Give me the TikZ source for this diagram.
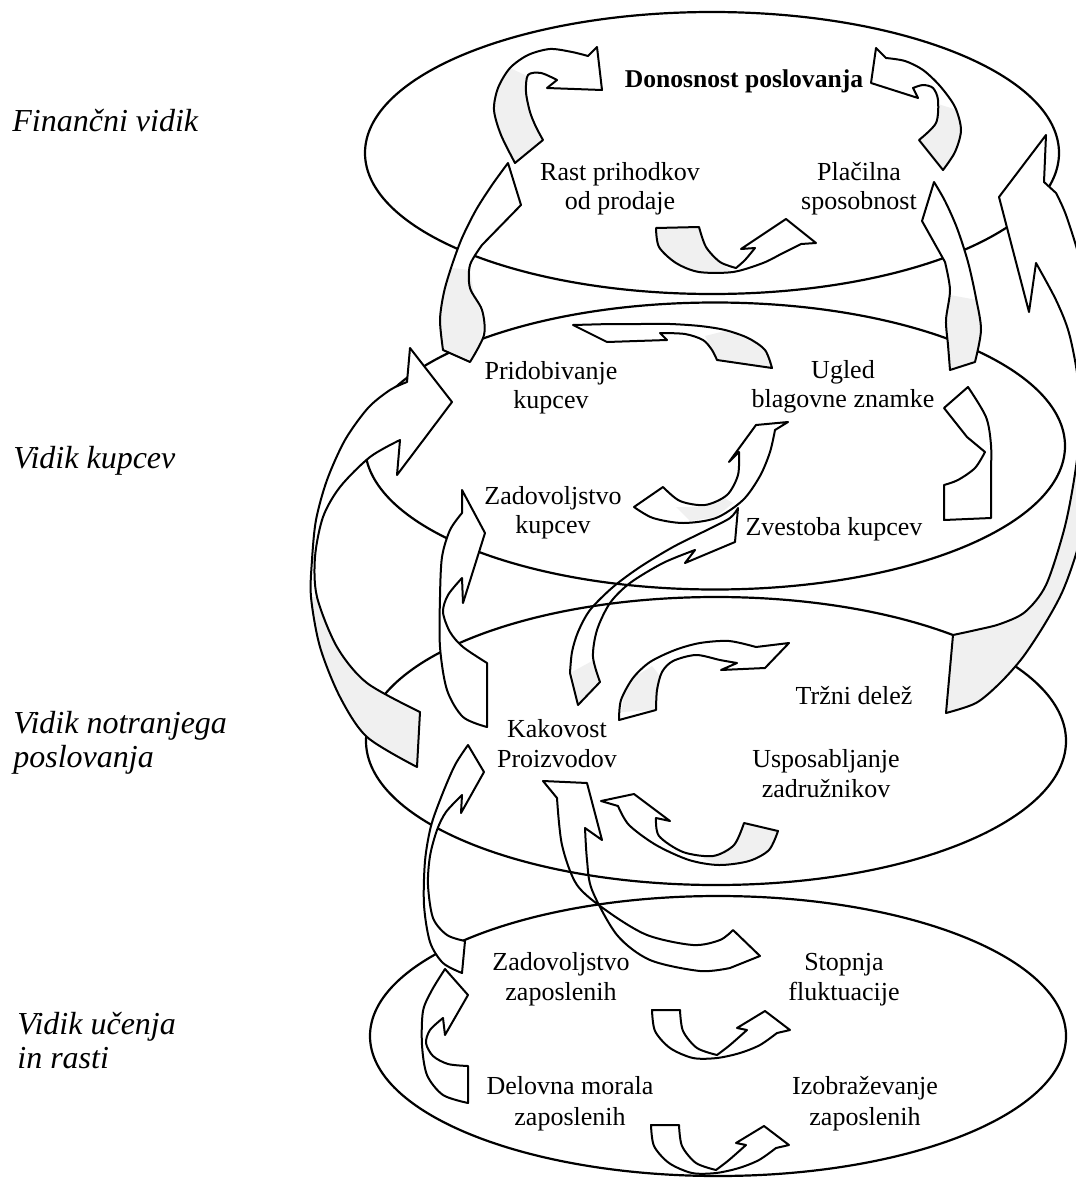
\documentclass[tikz,border=0pt]{standalone}
\usepackage{fontspec}
\setmainfont{Liberation Serif}

% outlines of the block arrows (pixel-like units, y downwards)
\newcommand\ArRast{(515,163) -- plot[smooth] coordinates {(515,163) (501,135) (494,110) (498,88) (510,68) (528,55) (550,49) (572,52) (588,56)} -- (597,47) -- (602,90) -- (547,88) -- (557,80) -- plot[smooth] coordinates {(557,80) (541,73) (528,75) (526,92) (530,112) (536,127) (543,140)} -- cycle}
\newcommand\ArPrid{(443,350) -- plot[smooth] coordinates {(443,350) (440,320) (444,292) (452,265) (462,238) (476,210) (492,185) (508,163)} -- (521,205) -- (482,245) -- plot[smooth] coordinates {(482,245) (470,265) (470,288) (482,310) (484,335) (470,362)} -- cycle}
\newcommand\ArPlac{(919,140) -- (943,170) -- plot[smooth] coordinates {(943,170) (955,152) (961,130) (955,107) (940,86) (923,70) (905,61) (886,58)} -- (876,48) -- (871,83) -- (918,98) -- (913,88) -- plot[smooth] coordinates {(913,88) (923,85) (933,88) (938,100) (936,123) (919,140)} -- cycle}
\newcommand\ArUtop{(656,228) -- plot[smooth] coordinates {(656,228) (659,247) (676,263) (699,272) (733,272) (763,263) (783,253) (801,244)} -- (816,243) -- (786,219) -- (741,249) -- (755,248) -- plot[smooth] coordinates {(755,248) (745,260) (736,268)} -- plot[smooth] coordinates {(736,268) (720,262) (706,247) (699,227)} -- cycle}
\newcommand\ArUgl{(950,370) -- (975,362) -- plot[smooth] coordinates {(975,362) (981,330) (976,298) (968,262) (957,228) (945,201) (934,182)} -- (922,221) -- (945,262) -- plot[smooth] coordinates {(945,262) (950,290) (946,320) (948,345) (950,370)} -- cycle}
\newcommand\ArTrz{(1046,135) -- (999,197) -- (1029,312) -- (1036,263) -- plot[smooth] coordinates {(1036,263) (1056,300) (1069,333) (1078,380) (1080,430) (1074,480) (1064,530) (1046,585) (1025,612) (1000,624) (976,630) (953,635)} -- (946,713) -- plot[smooth] coordinates {(946,713) (976,703) (1000,683) (1023,657) (1046,622) (1064,588) (1080,540) (1094,470) (1098,400) (1093,320) (1080,260) (1066,215) (1056,193)} -- (1044,182) -- cycle}
\newcommand\ArUgPr{(717,360) -- (772,368) -- plot[smooth] coordinates {(772,368) (765,350) (748,338) (725,330) (700,326) (670,324) (640,324) (610,324)} -- (573,325) -- (607,342) -- (667,340) -- (660,333) -- plot[smooth] coordinates {(660,333) (685,334) (703,340) (712,350) (717,360)} -- cycle}
\newcommand\ArZveUg{(944,485) -- (944,520) -- (991,518) -- plot[smooth] coordinates {(991,518) (991,475) (991,445) (986,417) (968,387)} -- (944,408) -- (967,437) -- (985,452) -- plot[smooth] coordinates {(985,452) (975,468) (958,480) (944,485)} -- cycle}
\newcommand\ArZadUg{(634,507) -- plot[smooth] coordinates {(634,507) (653,518) (683,523) (716,518) (743,500) (760,476) (770,452) (775,430)} -- (788,422) -- (756,425) -- (729,462) -- (739,452) -- plot[smooth] coordinates {(739,452) (738,475) (727,495) (705,505) (680,501) (663,487)} -- cycle}
\newcommand\ArKakZv{(570,673) -- (578,705) -- (600,682) -- plot[smooth] coordinates {(600,682) (593,657) (597,630) (610,603) (630,583) (663,563) (695,550)} -- (685,563) -- (735,542) -- (738,508) -- plot[smooth] coordinates {(738,508) (730,518) (707,530) (673,547) (640,567) (613,587) (590,610) (578,632) (572,652) (570,673)} -- cycle}
\newcommand\ArKakPr{(410,348) -- (452,402) -- (397,475) -- (400,440) -- plot[smooth] coordinates {(400,440) (370,457) (340,487) (323,517) (315,557) (317,597) (337,647) (367,683) (420,712)} -- (417,767) -- plot[smooth] coordinates {(417,767) (367,737) (340,697) (320,647) (311,597) (312,560) (316,520) (327,480) (345,440) (368,408) (390,390) (407,382)} -- cycle}
\newcommand\ArKakZad{(487,727) -- plot[smooth] coordinates {(487,727) (463,717) (447,690) (440,647) (440,597) (442,557) (450,530) (462,513)} -- (462,490) -- (485,533) -- (463,603) -- (462,578) -- plot[smooth] coordinates {(462,578) (448,595) (443,612) (450,632) (463,647) (487,663)} -- cycle}
\newcommand\ArKakTrz{(619,720) -- plot[smooth] coordinates {(619,720) (621,700) (633,678) (650,662) (675,650) (700,643) (729,641) (756,647)} -- (789,643) -- (765,668) -- (721,670) -- (737,663) -- plot[smooth] coordinates {(737,663) (720,660) (696,655) (673,661) (662,672) (657,690) (656,710)} -- cycle}
\newcommand\ArUspKak{(744,823) -- (778,831) -- plot[smooth] coordinates {(778,831) (769,850) (749,861) (719,865) (689,860) (656,845) (629,825) (618,806)} -- (601,801) -- (634,794) -- (670,821) -- (656,818) -- plot[smooth] coordinates {(656,818) (659,836) (683,852) (713,856) (734,845) (744,823)} -- cycle}
\newcommand\ArZapKak{(468,745) -- (484,772) -- (461,813) -- (462,795) -- plot[smooth] coordinates {(462,795) (446,812) (437,830) (430,856) (428,885) (433,918) (447,935) (465,941)} -- (462,973) -- plot[smooth] coordinates {(462,973) (443,963) (430,942) (424,905) (425,861) (431,826) (442,795) (455,765) (468,745)} -- cycle}
\newcommand\ArStopKak{(543,781) -- (587,783) -- (602,840) -- (585,828) -- plot[smooth] coordinates {(585,828) (587,860) (592,890) (617,935) (650,960) (700,971) (730,968)} -- (760,956) -- (733,930) -- plot[smooth] coordinates {(733,930) (720,940) (693,945) (647,935) (607,911) (577,885) (562,845) (557,798)} -- cycle}
\newcommand\ArDelZad{(468,1103) -- plot[smooth] coordinates {(468,1103) (443,1095) (427,1075) (422,1045) (423,1011) (432,990) (445,969)} -- (468,995) -- (445,1035) -- (443,1018) -- plot[smooth] coordinates {(443,1018) (430,1030) (426,1043) (433,1056) (448,1064) (468,1066)} -- cycle}
\newcommand\ArUlow{(652,1010) -- plot[smooth] coordinates {(652,1010) (655,1031) (670,1048) (693,1058) (717,1058) (740,1053) (760,1045) (777,1033)} -- (790,1030) -- (765,1011) -- (737,1028) -- (747,1030) -- plot[smooth] coordinates {(747,1030) (730,1045) (717,1055)} -- plot[smooth] coordinates {(717,1055) (697,1048) (683,1031) (680,1010)} -- cycle}

\begin{document}
\begin{tikzpicture}[x=0.5pt,y=-0.5pt,
  ring/.style={draw, line width=1.1pt},
  edge/.style={draw, line width=1pt, line join=round},
  shd/.style={fill=black!6},
  lbl/.style={font=\fontsize{13}{15}\selectfont, inner sep=0pt, anchor=base},
  side/.style={font=\fontsize{16}{17}\selectfont\itshape, inner sep=0pt, anchor=base west}]
\useasboundingbox (0,0) rectangle (1076,1178);
\clip (0,0) rectangle (1076,1178);
\fill[white] (0,0) rectangle (1076,1178);

% the four perspective levels
\draw[ring] (712,153) ellipse [x radius=173.5pt, y radius=70.5pt];
\draw[ring] (715,446) ellipse [x radius=175pt, y radius=71.75pt];
\draw[ring] (716,741) ellipse [x radius=175pt, y radius=72pt];
\draw[ring] (718,1036) ellipse [x radius=174pt, y radius=70pt];

% financial level
\fill[white] \ArRast;
\fill[shd] (515,163) -- (501,135) -- (494,110) -- (498,88) -- (510,68) -- (527,76) -- (526,92) -- (530,112) -- (536,127) -- (543,140) -- cycle;
\draw[edge] \ArRast;
\fill[white] \ArPlac;
\fill[shd] (919,140) -- (943,170) -- (955,152) -- (961,130) -- (957,110) -- (938,104) -- (936,123) -- cycle;
\draw[edge] \ArPlac;
\fill[white] \ArUtop;
\fill[shd] (656,228) -- plot[smooth] coordinates {(656,228) (659,247) (676,263) (699,272) (730,272)} -- plot[smooth] coordinates {(730,270) (720,262) (706,247) (699,227)} -- cycle;
\draw[edge] \ArUtop;

% links between the financial and the customer level
\fill[white] \ArPrid;
\fill[shd] (443,350) -- (440,320) -- (444,292) -- (452,268) -- (470,270) -- (474,295) -- (484,320) -- (480,345) -- (470,362) -- cycle;
\draw[edge] \ArPrid;
\fill[white] \ArUgl;
\fill[shd] (950,370) -- (975,362) -- (981,330) -- (977,300) -- (950,295) -- (946,320) -- (948,345) -- cycle;
\draw[edge] \ArUgl;
\fill[white] \ArTrz;
\fill[shd] plot[smooth] coordinates {(1080,430) (1074,480) (1064,530) (1046,585) (1025,612) (1000,624) (976,630) (953,635)} -- (946,713) -- plot[smooth] coordinates {(946,713) (976,703) (1000,683) (1023,657) (1046,622) (1064,588) (1080,540) (1094,470) (1098,430)} -- cycle;
\draw[edge] \ArTrz;

% customer level
\fill[white] \ArUgPr;
\fill[shd] (717,360) -- (772,368) -- (765,350) -- (748,338) -- (725,331) -- (705,336) -- (712,350) -- cycle;
\draw[edge] \ArUgPr;
\draw[edge, fill=white] \ArZveUg;
\fill[white] \ArZadUg;
\fill[shd] (676,507) -- (705,507) -- (724,498) -- (733,503) -- (716,517) -- (690,521) -- cycle;
\draw[edge] \ArZadUg;

% links between the customer and the internal level
\fill[white] \ArKakPr;
\fill[shd] plot[smooth] coordinates {(317,597) (337,647) (367,683) (420,712)} -- (417,767) -- plot[smooth] coordinates {(417,767) (367,737) (340,697) (320,647) (311,597)} -- cycle;
\draw[edge] \ArKakPr;
\draw[edge, fill=white] \ArKakZad;
\fill[shd] (572,672) -- (578,703) -- (598,682) -- (594,660) -- cycle;
\draw[edge] \ArKakZv;

% internal level
\fill[white] \ArKakTrz;
\fill[shd] (621,712) -- (624,695) -- (636,676) -- (652,666) -- (660,676) -- (657,700) -- (656,710) -- cycle;
\draw[edge] \ArKakTrz;
\fill[white] \ArUspKak;
\fill[shd] (744,823) -- (778,831) -- (769,850) -- (749,861) -- (719,865) -- (702,858) -- (713,856) -- (734,845) -- cycle;
\draw[edge] \ArUspKak;

% links between the learning and the internal level
\draw[edge, fill=white] \ArZapKak;
\draw[edge] \ArStopKak;

% learning and growth level
\draw[edge, fill=white] \ArDelZad;
\draw[edge, fill=white] \ArUlow;
\begin{scope}[shift={(-1,115)}]
\draw[edge, fill=white] \ArUlow;
\end{scope}

% level names
\node[side] (fin)  at (12,131)  {Finančni vidik};
\node[side] (kup)  at (13,468)  {Vidik kupcev};
\node[side] (notA) at (13,733)  {Vidik notranjega};
\node[side] (notB) at (13,767)  {poslovanja};
\node[side] (uceA) at (17,1034) {Vidik učenja};
\node[side] (uceB) at (17,1068) {in rasti};

% items of each level
\node[lbl, font=\fontsize{12.8}{15}\selectfont\bfseries] (don) at (744,87) {Donosnost poslovanja};
\node[lbl] (rastA) at (620,180) {Rast prihodkov};
\node[lbl] (rastB) at (620,209) {od prodaje};
\node[lbl] (placA) at (859,180) {Plačilna};
\node[lbl] (placB) at (859,209) {sposobnost};
\node[lbl] (pridA) at (551,379) {Pridobivanje};
\node[lbl] (pridB) at (551,408) {kupcev};
\node[lbl] (uglA)  at (843,378) {Ugled};
\node[lbl] (uglB)  at (843,407) {blagovne znamke};
\node[lbl] (zadA)  at (553,504) {Zadovoljstvo};
\node[lbl] (zadB)  at (553,533) {kupcev};
\node[lbl] (zve)   at (834,535) {Zvestoba kupcev};
\node[lbl] (trz)   at (854,704) {Tržni delež};
\node[lbl] (kakA)  at (557,737) {Kakovost};
\node[lbl] (kakB)  at (557,767) {Proizvodov};
\node[lbl] (uspA)  at (826,767) {Usposabljanje};
\node[lbl] (uspB)  at (826,797) {zadružnikov};
\node[lbl] (zapA)  at (561,970) {Zadovoljstvo};
\node[lbl] (zapB)  at (561,1000) {zaposlenih};
\node[lbl] (stoA)  at (844,970) {Stopnja};
\node[lbl] (stoB)  at (844,1000) {fluktuacije};
\node[lbl] (delA)  at (570,1094) {Delovna morala};
\node[lbl] (delB)  at (570,1125) {zaposlenih};
\node[lbl] (izoA)  at (865,1094) {Izobraževanje};
\node[lbl] (izoB)  at (865,1125) {zaposlenih};
\end{tikzpicture}
\end{document}
